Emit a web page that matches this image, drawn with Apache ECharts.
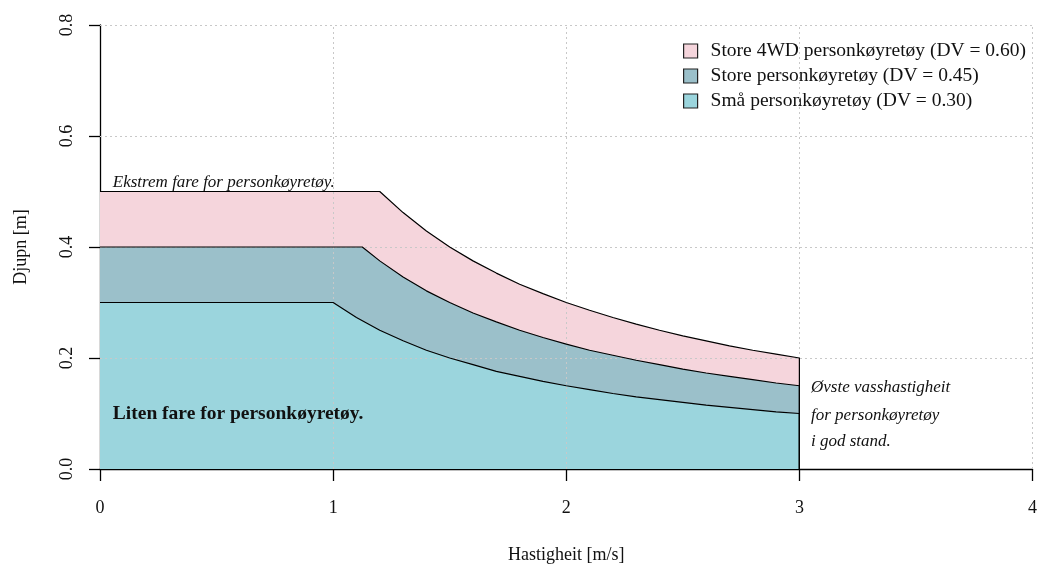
<!DOCTYPE html>
<html>
<head>
<meta charset="utf-8">
<script src="https://cdn.jsdelivr.net/npm/echarts@6/dist/echarts.min.js"></script>
<style>
html,body{margin:0;padding:0;background:#fff;}
#c{width:1040px;height:569px;}
</style>
</head>
<body>
<div id="c"></div>
<script>
// ---- data ----
const seriesNames = [
  'Store 4WD personkøyretøy (DV = 0.60)',
  'Store personkøyretøy (DV = 0.45)',
  'Små personkøyretøy (DV = 0.30)'
];
const vel4WD   = [0, 1.2, 1.3, 1.4, 1.5, 1.6, 1.7, 1.8, 1.9, 2.0, 2.1, 2.2, 2.3, 2.4, 2.5, 2.6, 2.7, 2.8, 2.9, 3.0, 3.0];
const depth4WD = [0.5, 0.5, 0.462, 0.429, 0.4, 0.375, 0.353, 0.333, 0.316, 0.3, 0.286, 0.273, 0.261, 0.25, 0.24, 0.231, 0.222, 0.214, 0.207, 0.2, 0];
const velStore   = [0, 1.125, 1.2, 1.3, 1.4, 1.5, 1.6, 1.7, 1.8, 1.9, 2.0, 2.1, 2.2, 2.3, 2.4, 2.5, 2.6, 2.7, 2.8, 2.9, 3.0, 3.0];
const depthStore = [0.4, 0.4, 0.375, 0.346, 0.321, 0.3, 0.281, 0.265, 0.25, 0.237, 0.225, 0.214, 0.205, 0.196, 0.188, 0.18, 0.173, 0.167, 0.161, 0.155, 0.15, 0];
const velSmall   = [0, 1.0, 1.1, 1.2, 1.3, 1.4, 1.5, 1.6, 1.7, 1.8, 1.9, 2.0, 2.1, 2.2, 2.3, 2.4, 2.5, 2.6, 2.7, 2.8, 2.9, 3.0, 3.0];
const depthSmall = [0.3, 0.3, 0.273, 0.25, 0.231, 0.214, 0.2, 0.188, 0.176, 0.167, 0.158, 0.15, 0.143, 0.136, 0.13, 0.125, 0.12, 0.115, 0.111, 0.107, 0.103, 0.1, 0];
const xTicks = [0, 1, 2, 3, 4];
const yTicks = [0, 0.2, 0.4, 0.6, 0.8];
const notes = [
  {text: 'Ekstrem fare for personkøyretøy.', at: [0.055, 0.516], style: 'italic', weight: 'normal', size: 17},
  {text: 'Liten fare for personkøyretøy.', at: [0.055, 0.1], style: 'normal', weight: 'bold', size: 19.5},
  {text: 'Øvste vasshastigheit', at: [3.05, 0.147], style: 'italic', weight: 'normal', size: 17},
  {text: 'for personkøyretøy', at: [3.05, 0.097], style: 'italic', weight: 'normal', size: 17},
  {text: 'i god stand.', at: [3.05, 0.05], style: 'italic', weight: 'normal', size: 17}
];
const fills = ['#F5D5DC', '#9BC0CA', '#9BD5DD'];

const FONT = '"Liberation Serif", "Times New Roman", serif';
const zip = (xs, ys) => xs.map((x, i) => [x, ys[i]]);
const curves = [zip(vel4WD, depth4WD), zip(velStore, depthStore), zip(velSmall, depthSmall)];

const chart = echarts.init(document.getElementById('c'));

// fills (below the grid)
const areaSeries = curves.map((d, i) => ({
  name: seriesNames[i],
  type: 'line',
  data: d,
  showSymbol: false,
  symbol: 'none',
  z: 2,
  silent: true,
  itemStyle: {color: fills[i]},
  lineStyle: {width: 0, opacity: 0},
  areaStyle: {color: fills[i], opacity: 1, origin: 'start'},
  animation: false
}));

// outlines (above the grid)
const outlineSeries = curves.map((d, i) => ({
  type: 'line',
  data: d,
  showSymbol: false,
  symbol: 'none',
  z: 8,
  silent: true,
  lineStyle: {color: '#000', width: 1.2},
  animation: false
}));

const gridSeries = {
  type: 'line',
  data: [],
  z: 5,
  silent: true,
  markLine: {
    silent: true,
    symbol: ['none', 'none'],
    label: {show: false},
    lineStyle: {color: '#c8c8c8', type: [2, 3], width: 1},
    animation: false,
    data: xTicks.filter(v => v > 0).map(v => ({xAxis: v}))
      .concat(yTicks.filter(v => v > 0).map(v => ({yAxis: v})))
  }
};

const noteSeries = {
  type: 'scatter',
  symbolSize: 0,
  z: 9,
  silent: true,
  animation: false,
  itemStyle: {opacity: 1},
  data: notes.map(n => ({
    value: n.at,
    label: {
      show: true,
      position: 'right',
      distance: 0,
      formatter: n.text,
      fontFamily: FONT,
      fontStyle: n.style,
      fontWeight: n.weight,
      fontSize: n.size,
      color: '#111',
      opacity: 1
    }
  }))
};

chart.setOption({
  animation: false,
  backgroundColor: '#fff',
  grid: {left: 100, right: 6, top: 25, bottom: 99},
  legend: {
    orient: 'vertical',
    left: 678,
    top: 36,
    itemWidth: 14,
    itemHeight: 14,
    itemGap: 5,
    icon: 'rect',
    selectedMode: false,
    textStyle: {fontFamily: FONT, fontSize: 19.5, color: '#111', padding: [0, 0, 0, 8]},
    data: seriesNames.map((n, i) => ({name: n, itemStyle: {color: fills[i], borderColor: '#222', borderWidth: 1.2}}))
  },
  xAxis: {
    type: 'value',
    min: 0, max: 4, interval: 1,
    name: 'Hastigheit [m/s]',
    nameLocation: 'middle',
    nameGap: 77,
    nameTextStyle: {fontFamily: FONT, fontSize: 18, color: '#111'},
    axisLine: {show: true, onZero: false, lineStyle: {color: '#000', width: 1.3}},
    axisTick: {show: true, length: 12, lineStyle: {color: '#000', width: 1.3}},
    axisLabel: {margin: 30, fontFamily: FONT, fontSize: 18, color: '#111',
      formatter: v => String(xTicks[xTicks.indexOf(v)])},
    splitLine: {show: false}
  },
  yAxis: {
    type: 'value',
    min: 0, max: 0.8, interval: 0.2,
    name: 'Djupn [m]',
    nameLocation: 'middle',
    nameGap: 70,
    nameTextStyle: {fontFamily: FONT, fontSize: 18, color: '#111'},
    axisLine: {show: true, onZero: false, lineStyle: {color: '#000', width: 1.3}},
    axisTick: {show: true, length: 11, lineStyle: {color: '#000', width: 1.3}},
    axisLabel: {rotate: 90, margin: 24, fontFamily: FONT, fontSize: 18, color: '#111',
      formatter: v => v.toFixed(1)},
    splitLine: {show: false}
  },
  series: areaSeries.concat([gridSeries], outlineSeries, [noteSeries])
});
</script>
</body>
</html>
